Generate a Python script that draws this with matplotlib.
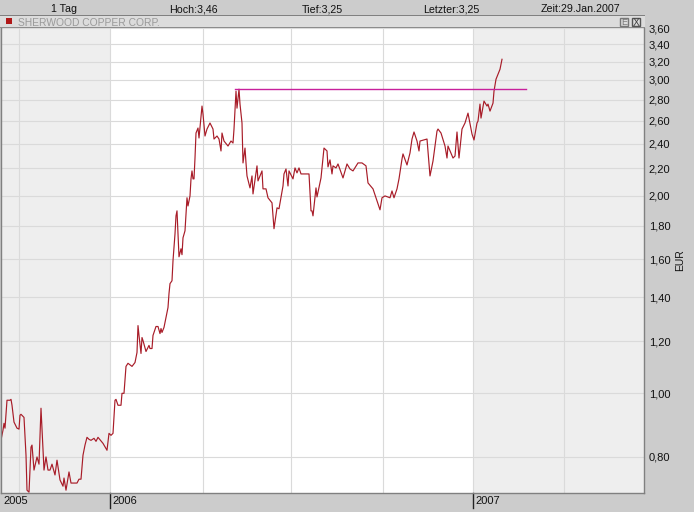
import matplotlib
matplotlib.use('Agg')
import matplotlib.pyplot as plt
from matplotlib.patches import Rectangle

plt.rcParams['font.family'] = ['Liberation Sans', 'DejaVu Sans']

# days since 1 Jan 2006, price in EUR
days = [-110, -107, -106, -105, -103, -100, -99, -98, -96, -93, -91, -90, -89, -86, -84, -83, -81, -79, -78, -76,
        -73, -71, -69, -68, -66, -64, -62, -60, -58, -55, -53, -50, -47, -46, -44, -41, -39, -33, -31, -29,
        -27, -25, -23, -21, -19, -16, -14, -12, -7, -3, -1, 1, 3, 5, 6, 8, 11, 12, 14, 16,
        18, 22, 25, 27, 28, 29, 31, 32, 33, 36, 39, 40, 42, 43, 46, 48, 50, 51, 52, 54,
        58, 59, 60, 62, 63, 65, 66, 67, 68, 69, 71, 72, 73, 75, 77, 78, 80, 81, 82, 83,
        84, 85, 86, 88, 89, 92, 93, 95, 97, 100, 103, 104, 107, 109, 111, 112, 114, 118, 121, 123,
        124, 126, 127, 129, 130, 132, 133, 135, 136, 137, 140, 142, 143, 147, 148, 152, 153, 156, 158, 162,
        164, 167, 169, 173, 174, 176, 178, 179, 183, 185, 187, 189, 191, 199, 201, 202, 203, 206, 207, 211,
        214, 217, 218, 220, 222, 223, 226, 228, 233, 237, 240, 243, 248, 252, 256, 258, 263, 270, 272, 275,
        280, 282, 284, 287, 289, 292, 293, 297, 300, 302, 304, 307, 309, 310, 317, 320, 323, 327, 328, 331,
        335, 337, 338, 343, 345, 347, 349, 352, 355, 358, 362, 364, 367, 368, 370, 371, 374, 377, 378, 380,
        383, 384, 386, 390, 392]
prices = [.834, .879, .900, .885, .976, .976, .979, .959, .904, .885, .882, .926, .929, .919, .805, .712, .707, .828, .834, .764,
          .800, .780, .949, .885, .764, .800, .764, .764, .780, .751, .791, .738, .722, .743, .712, .759, .730, .730, .740, .740,
          .805, .834, .857, .851, .848, .854, .845, .857, .839, .819, .869, .863, .869, .976, .979, .959, .959, 1.0, 1.0, 1.099,
          1.111, 1.099, 1.114, 1.154, 1.268, 1.225, 1.150, 1.216, 1.203, 1.158, 1.183, 1.170, 1.170, 1.225, 1.264, 1.264, 1.233, 1.255, 1.238, 1.260,
          1.351, 1.419, 1.469, 1.484, 1.592, 1.749, 1.863, 1.896, 1.749, 1.614, 1.660, 1.626, 1.725, 1.768, 1.985, 1.929, 1.998, 2.121, 2.181, 2.121,
          2.121, 2.282, 2.491, 2.535, 2.448, 2.738, 2.662, 2.465, 2.526, 2.580, 2.526, 2.439, 2.465, 2.439, 2.339, 2.491, 2.422, 2.380, 2.422, 2.405,
          2.526, 2.885, 2.718, 2.905, 2.757, 2.580, 2.243, 2.363, 2.243, 2.143, 2.055, 2.143, 2.012, 2.220, 2.106, 2.181, 2.048, 2.048, 1.985, 1.950,
          1.781, 1.916, 1.910, 2.069, 2.158, 2.196, 2.069, 2.181, 2.121, 2.204, 2.166, 2.204, 2.158, 2.158, 1.896, 1.896, 1.863, 2.055, 1.991, 2.128,
          2.363, 2.339, 2.212, 2.267, 2.158, 2.220, 2.204, 2.235, 2.128, 2.235, 2.196, 2.181, 2.243, 2.243, 2.220, 2.091, 2.048, 1.903, 1.985, 1.998,
          1.985, 2.033, 1.985, 2.048, 2.121, 2.274, 2.315, 2.227, 2.323, 2.439, 2.500, 2.422, 2.339, 2.422, 2.439, 2.143, 2.258, 2.508, 2.526, 2.491,
          2.380, 2.282, 2.380, 2.282, 2.298, 2.500, 2.282, 2.526, 2.580, 2.671, 2.482, 2.431, 2.580, 2.597, 2.757, 2.625, 2.786, 2.738, 2.757, 2.690,
          2.766, 2.885, 3.008, 3.115, 3.226]

resistance_days = [125, 416]
resistance_price = [2.905, 2.905]

y_ticks = [0.8, 1.0, 1.2, 1.4, 1.6, 1.8, 2.0, 2.2, 2.4, 2.6, 2.8, 3.0, 3.2, 3.4, 3.6]
y_labels = ['0,80', '1,00', '1,20', '1,40', '1,60', '1,80', '2,00', '2,20', '2,40', '2,60', '2,80', '3,00', '3,20', '3,40', '3,60']
x_grid = [-91, 0, 93, 181, 273, 363, 454]
year_days = [-109, 0, 363]
year_labels = ['2005', '2006', '2007']
shaded = [(-110, 0), (363, 534)]
header = [('1 Tag', 64), ('Hoch:3,46', 193), ('Tief:3,25', 322), ('Letzter:3,25', 451), ('Zeit:29.Jan.2007', 580)]

W, H = 694, 512
fig = plt.figure(figsize=(W / 100, H / 100), dpi=100, facecolor='#cccccc')
ax = fig.add_axes([1 / W, (H - 493) / H, 643 / W, 465 / H])
ax.set_yscale('log')
ax.set_xlim(-109, 534)
ax.set_ylim(0.705, 3.583)

for a, b in shaded:
    ax.axvspan(a, b, color='#eeeeee', lw=0, zorder=0)
ax.set_yticks(y_ticks, y_labels)
ax.minorticks_off()
ax.set_xticks(x_grid, [])
ax.grid(color='#dadada', lw=0.8)
ax.set_axisbelow(True)
ax.yaxis.tick_right()
ax.tick_params(length=0, labelsize=8, pad=3.5, colors='#111111')

ax.plot(days, prices, color='#a81c28', lw=0.85)
ax.plot(resistance_days, resistance_price, color='#c8209c', lw=1, zorder=3)

for s in ax.spines.values():
    s.set_color('#808080')
    s.set_linewidth(1)
ax.spines['top'].set_visible(False)

# title bar above the plot
def px_rect(x, y, w, h, **kw):
    fig.add_artist(Rectangle((x / W, (H - y - h) / H), w / W, h / H, transform=fig.transFigure, **kw))

px_rect(0, 15, 645, 13, fc='#dcdcdc', ec='none')
px_rect(0, 15, 645, 1, fc='#808080', ec='none')
px_rect(0, 27, 645, 1, fc='#8c8c8c', ec='none')
px_rect(6, 18, 6, 6, fc='#b01818', ec='none')
px_rect(620, 18, 8, 8, fc='none', ec='#777777', lw=1)
px_rect(632, 18, 8, 8, fc='none', ec='#555555', lw=1)
fig.text(624 / W, (H - 22.5) / H, 'E', fontsize=6.5, color='#777777', ha='center', va='center')
fig.text(636 / W, (H - 22.5) / H, 'X', fontsize=7.5, color='#444444', ha='center', va='center')
fig.text(18 / W, (H - 22.5) / H, 'SHERWOOD COPPER CORP.', fontsize=7.4, color='#9a9a9a', va='center')

for label, x in header:
    fig.text(x / W, (H - 9.5) / H, label, fontsize=7.7, color='#111111', ha='center', va='center')

# year marks under the plot
for d, label in zip(year_days, year_labels):
    ax.annotate(label, (d, 0), xycoords=('data', 'axes fraction'), xytext=(2, -3), textcoords='offset pixels',
                fontsize=8, color='#111111', va='top', annotation_clip=False)
    if d > -109:
        ax.plot([d, d], [0, -0.033], transform=ax.get_xaxis_transform(), color='#222222', lw=1, clip_on=False)

fig.text(680 / W, (H - 260) / H, 'EUR', fontsize=7.5, rotation=90, color='#111111', ha='center', va='center')

fig.savefig('out.png', dpi=100, facecolor=fig.get_facecolor())
